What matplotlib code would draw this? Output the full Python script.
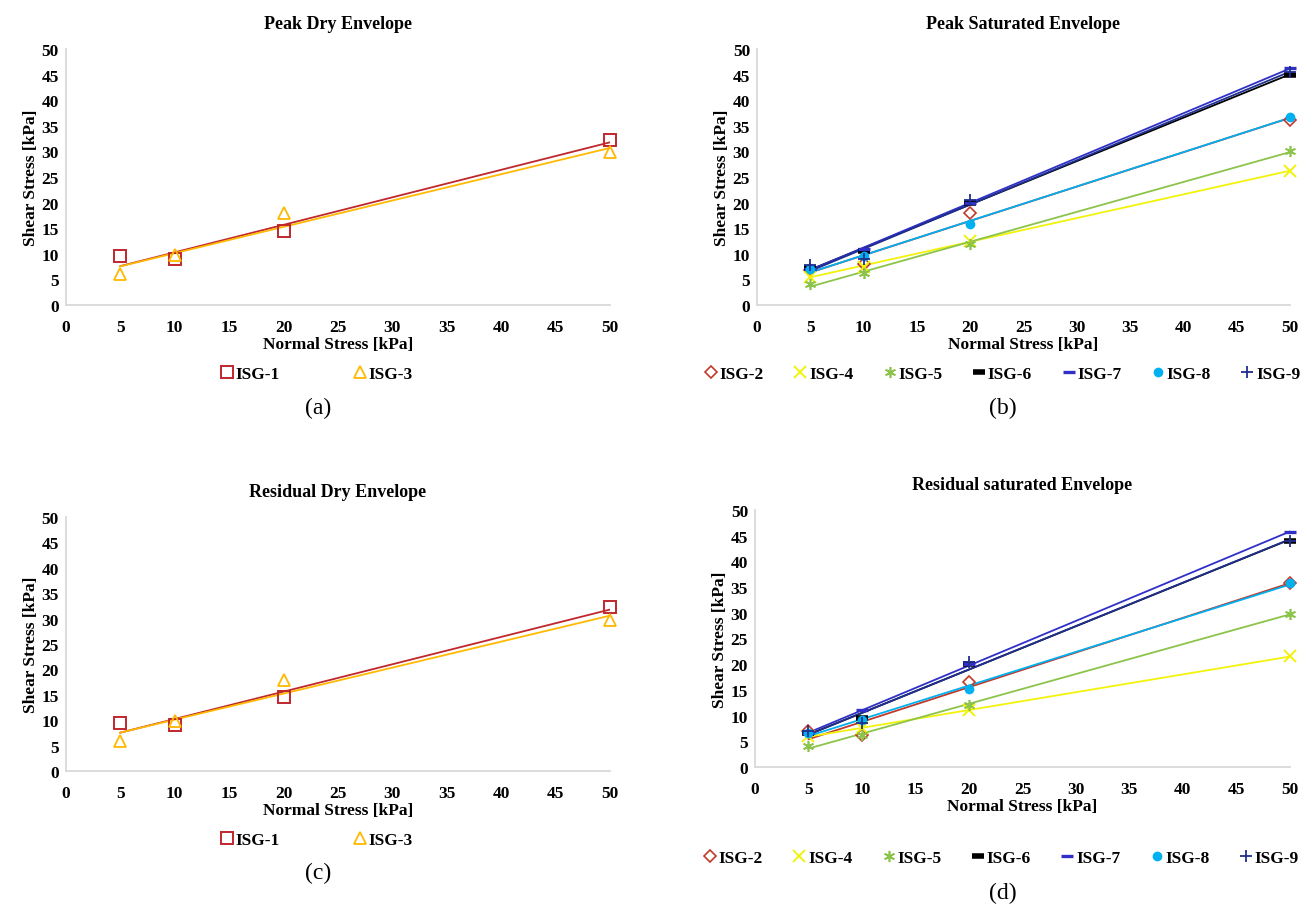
import matplotlib
matplotlib.use("Agg")
import matplotlib.pyplot as plt
import numpy as np

plt.rcParams['font.family'] = ['Liberation Serif', 'DejaVu Serif']

# category axis: labels are evenly spaced, points sit on their label
xtick_labels = [0, 5, 10, 15, 20, 25, 30, 35, 40, 45, 50]
normal_stress = [5, 10, 20, 50]

# dry samples (peak and residual read the same)
peak_dry = {
    'ISG-1': [9.5, 9.0, 14.5, 32.3],
    'ISG-3': [6.0, 9.8, 18.0, 29.8],
}
residual_dry = {
    'ISG-1': [9.4, 9.0, 14.5, 32.3],
    'ISG-3': [6.0, 9.8, 18.0, 29.7],
}

peak_sat = {
    'ISG-2': [6.8, 8.0, 18.0, 36.2],
    'ISG-4': [5.5, 7.5, 12.5, 26.2],
    'ISG-5': [4.0, 6.3, 12.0, 30.0],
    'ISG-6': [7.2, 10.5, 20.0, 45.0],
    'ISG-7': [7.0, 11.0, 20.0, 46.2],
    'ISG-8': [7.0, 9.5, 15.8, 36.8],
    'ISG-9': [7.8, 9.0, 20.5, 45.5],
}
residual_sat = {
    'ISG-2': [7.0, 6.2, 16.5, 35.7],
    'ISG-4': [6.0, 7.5, 11.0, 21.5],
    'ISG-5': [4.0, 6.2, 12.0, 29.8],
    'ISG-6': [6.5, 9.5, 20.0, 44.0],
    'ISG-7': [6.5, 11.0, 20.0, 45.7],
    'ISG-8': [6.5, 9.2, 15.2, 35.7],
    'ISG-9': [7.0, 8.5, 20.5, 44.0],
}

styles = {
    'ISG-1': dict(color='#C0272D', marker='s', mfc='none', ms=8, mew=1.4),
    'ISG-3': dict(color='#FFB900', marker='^', mfc='none', ms=8, mew=1.3),
    'ISG-2': dict(color='#C0392B', marker='D', mfc='none', ms=6, mew=1.2),
    'ISG-4': dict(color='#F2F20A', marker='x', mfc='none', ms=8, mew=1.4),
    'ISG-5': dict(color='#8CC34B', marker=(6, 2, 0), mfc='none', ms=8, mew=1.2),
    'ISG-6': dict(color='#000000', marker='_', mfc='none', ms=8, mew=4),
    'ISG-7': dict(color='#3030C8', marker='_', mfc='none', ms=8, mew=2.4),
    'ISG-8': dict(color='#00B0F0', marker='o', mfc='#00B0F0', ms=7, mew=0),
    'ISG-9': dict(color='#1F2F8F', marker='+', mfc='none', ms=9, mew=1.3),
}

pos = np.array([xtick_labels.index(v) for v in normal_stress])


def draw_panel(ax, data, title, leg_x, leg_y, ncol, colspace):
    for name, vals in data.items():
        st = styles[name]
        ax.plot(pos, vals, linestyle='none', marker=st['marker'], color=st['color'],
                mfc=st['mfc'], ms=st['ms'], mew=st['mew'], label=name, zorder=3,
                clip_on=False)
        k, b = np.polyfit(pos, vals, 1)
        xx = np.array([pos[0], pos[-1]])
        ax.plot(xx, k * xx + b, color=st['color'], lw=1.3, zorder=2)
    ax.set_xlim(0, 10)
    ax.set_ylim(0, 50)
    ax.set_xticks(range(len(xtick_labels)))
    ax.set_xticklabels([str(v) for v in xtick_labels])
    ax.set_yticks(range(0, 51, 5))
    ax.tick_params(length=0, labelsize=12.5)
    ax.tick_params(axis='x', pad=10)
    ax.tick_params(axis='y', pad=5)
    for lab in ax.get_xticklabels() + ax.get_yticklabels():
        lab.set_fontweight('bold')
    for s in ['top', 'right']:
        ax.spines[s].set_visible(False)
    for s in ['left', 'bottom']:
        ax.spines[s].set_color('#D9D9D9')
        ax.spines[s].set_linewidth(1.3)
    ax.set_title(title, fontsize=13, fontweight='bold', pad=15)
    ax.set_xlabel('Normal Stress [kPa]', fontsize=12.5, fontweight='bold', labelpad=1)
    ax.set_ylabel('Shear Stress [kPa]', fontsize=12.5, fontweight='bold', labelpad=2)
    ax.legend(loc='center', bbox_to_anchor=(leg_x, leg_y), ncol=ncol, frameon=False,
              prop={'weight': 'bold', 'size': 12.5}, handlelength=0.8, handletextpad=0.1,
              columnspacing=colspace)


fig = plt.figure(figsize=(13.11, 9.12), dpi=100)
ax_a = fig.add_axes([0.0503, 0.6645, 0.415, 0.2807])
ax_b = fig.add_axes([0.5774, 0.6645, 0.4066, 0.2807])
ax_c = fig.add_axes([0.0503, 0.1535, 0.415, 0.2785])
ax_d = fig.add_axes([0.5759, 0.158, 0.408, 0.2818])

draw_panel(ax_a, peak_dry, 'Peak Dry Envelope', 0.46, -0.27, 2, 4.2)
draw_panel(ax_b, peak_sat, 'Peak Saturated Envelope', 0.46, -0.27, 7, 1.7)
draw_panel(ax_c, residual_dry, 'Residual Dry Envelope', 0.46, -0.27, 2, 4.2)
draw_panel(ax_d, residual_sat, 'Residual saturated Envelope', 0.46, -0.355, 7, 1.7)

fig.text(0.243, 1 - 408 / 912, '(a)', ha='center', va='center', fontsize=17)
fig.text(0.765, 1 - 408 / 912, '(b)', ha='center', va='center', fontsize=17)
fig.text(0.243, 1 - 873 / 912, '(c)', ha='center', va='center', fontsize=17)
fig.text(0.765, 1 - 893 / 912, '(d)', ha='center', va='center', fontsize=17)

fig.savefig('out.png', dpi=100)
